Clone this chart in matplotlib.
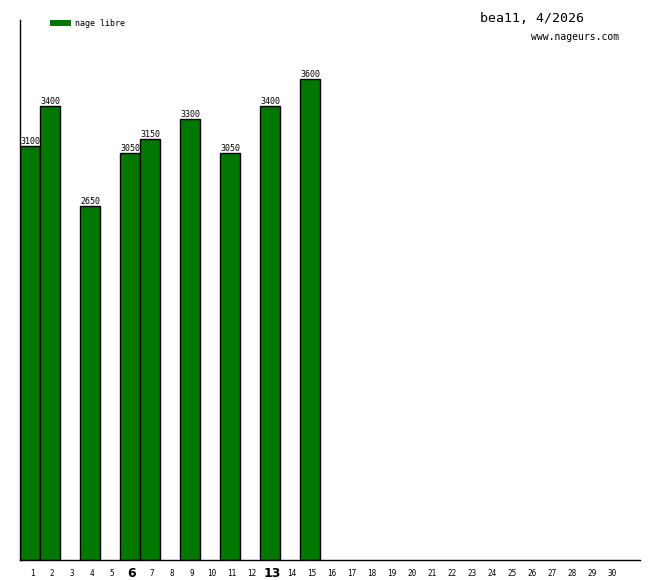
import matplotlib
matplotlib.use("Agg")
import matplotlib.pyplot as plt
import matplotlib.transforms as mtransforms
from matplotlib.patches import Rectangle

days = [1, 2, 4, 6, 7, 9, 11, 13, 15]
values = [3100, 3400, 2650, 3050, 3150, 3300, 3050, 3400, 3600]
tick_days = list(range(1, 31))
bold_days = [6, 13]
series_name = "nage libre"
title = "bea11, 4/2026"
site = "www.nageurs.com"

W, H = 660, 580
fig = plt.figure(figsize=(W / 100, H / 100), dpi=100)
ax = fig.add_axes([20 / W, 20 / H, 620 / W, 540 / H])
green = "#007800"
mono = "DejaVu Sans Mono"

ax.bar(days, values, width=1.0, color=green, edgecolor="black", linewidth=1.0)
for d, v in zip(days, values):
    ax.text(d, v, str(v), ha="center", va="bottom", fontsize=6, family=mono)

ax.set_xlim(0.5, 31.5)
ax.set_ylim(0, 4042)
ax.spines["top"].set_visible(False)
ax.spines["right"].set_visible(False)
ax.spines["left"].set_linewidth(1.0)
ax.spines["bottom"].set_linewidth(1.0)
ax.set_yticks([])
ax.set_xticks(tick_days)
ax.set_xticklabels([str(d) for d in tick_days], family=mono)
ax.tick_params(axis="x", length=0, pad=9.4, labelsize=5.5)
offset = mtransforms.ScaledTranslation(2 / 100, 0, fig.dpi_scale_trans)
for lab, d in zip(ax.get_xticklabels(), tick_days):
    lab.set_verticalalignment("center")
    lab.set_transform(lab.get_transform() + offset)
    if d in bold_days:
        lab.set_fontsize(9)
        lab.set_fontweight("bold")
        lab.set_family("DejaVu Sans")

# legend
fig.patches.append(Rectangle((50 / W, 1 - 26 / H), 21 / W, 6 / H, transform=fig.transFigure,
                             facecolor=green, edgecolor="none"))
fig.text(75 / W, 1 - 23 / H, series_name, fontsize=6, family=mono, va="center", ha="left")

fig.text(532 / W, 1 - 18 / H, title, fontsize=9.5, family=mono, ha="center", va="center")
fig.text(575 / W, 1 - 37 / H, site, fontsize=7, family=mono, ha="center", va="center")

fig.savefig("out.png", dpi=100, facecolor="white")
